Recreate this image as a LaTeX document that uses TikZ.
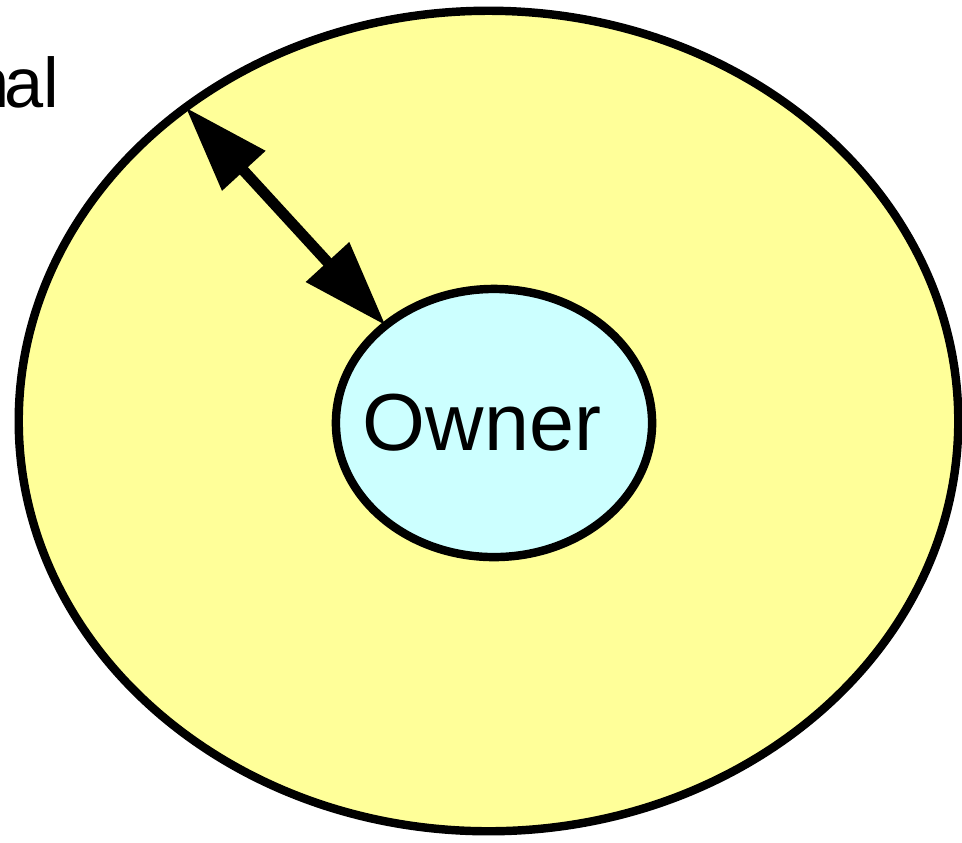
\documentclass[tikz,border=0pt]{standalone}
\usepackage{fontspec}
\setmainfont{Liberation Sans}
\usetikzlibrary{shapes.geometric,arrows.meta}

\definecolor{zoneyellow}{HTML}{FFFF99}
\definecolor{ownercyan}{HTML}{CCFFFF}

\begin{document}
\begin{tikzpicture}[x=0.01cm, y=-0.01cm,
    ring/.style={ellipse, draw=black, line width=2.4pt, inner sep=-1cm, outer sep=0pt},
    reach/.style={{Triangle[length=8.6mm, width=5.6mm]}-{Triangle[length=8.6mm, width=5.6mm]}, line width=3.1pt}]

% --- Frame ---
\useasboundingbox (0,0) rectangle (962,842);
\clip (0,0) rectangle (962,842);

% --- Outer zone ---
\node[ring, fill=zoneyellow, minimum width=9.39cm, minimum height=8.2cm] (outerzone) at (488.5,421) {};

% --- Label cut by the left edge ---
\node[anchor=base east, inner sep=0pt, font=\fontsize{20}{24}\selectfont] (zonelabel) at (60,107) {n\kern-0.05cm al};

% --- Owner ---
\node[ring, fill=ownercyan, minimum width=3.16cm, minimum height=2.68cm, font=\fontsize{23}{27}\selectfont] (owner) at (494,423) {Owner\hspace*{0.24cm}};

% --- Distance between owner and zone ---
\draw[reach] (outerzone.134.3) -- (owner.138.5);

\end{tikzpicture}
\end{document}
